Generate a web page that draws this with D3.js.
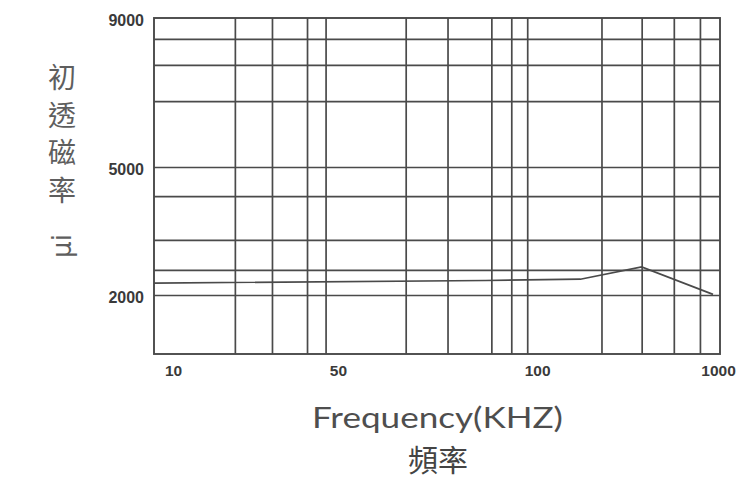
<!DOCTYPE html>
<html>
<head>
<meta charset="utf-8">
<script src="https://cdn.jsdelivr.net/npm/d3@7"></script>
<style>
  html, body { margin: 0; padding: 0; background: #fff; }
  svg { display: block; }
</style>
</head>
<body>
<svg id="chart" width="740" height="490"></svg>
<script>
// ---- data ----
const xTickValues = [10, 50, 100, 1000];               // kHz labels
const xTickLabels = ["10", "50", "100", "1000"];
const xGridValues = [25, 34, 42.5, 47, 67, 77.5, 88.5, 93.5, 97.5, 420, 620, 780, 910];
const xDomainStops = [5, 10, 50, 100, 1000, 1010];
const xStopFractions = [0, 0.0336, 0.325, 0.677, 0.9965, 1];

const yTickValues = [2000, 5000, 9000];
const yTickLabels = ["2000", "5000", "9000"];
const yGridValues = [2000, 2590, 3290, 4320, 5000, 6770, 7740, 8440];
const yDomainStops = [620, 2000, 5000, 9000];
const yStopFractions = [0, 0.1756, 0.5565, 1];

const curveFreq = [5, 87, 315, 620, 975];
const curveMu = [2280, 2340, 2370, 2660, 2015];

const yTitleChars = ["初", "透", "磁", "率"];
const yTitleSymbol = "μi";
const xTitle = "Frequency(KHZ)";
const xTitleZh = "頻率";

// ---- layout ----
const svg = d3.select("#chart");
const m = { left: 154, top: 18, right: 20, bottom: 136 };
const W = 740, H = 490;
const pw = W - m.left - m.right, ph = H - m.top - m.bottom;
const ink = "#4a4a4a";

const x = d3.scaleLinear()
  .domain(xDomainStops)
  .range(xStopFractions.map(f => f * pw));
const y = d3.scaleLinear()
  .domain(yDomainStops)
  .range(yStopFractions.map(f => ph - f * ph));

const g = svg.append("g").attr("transform", `translate(${m.left},${m.top})`);

// vertical grid lines
const vGrid = g.append("g")
  .call(d3.axisBottom(x).tickValues(xGridValues).tickSize(-ph).tickFormat(""))
  .attr("transform", `translate(0,${ph})`);
vGrid.select(".domain").remove();
vGrid.selectAll("line").attr("stroke", ink).attr("stroke-width", 1.7);

// horizontal grid lines
const hGrid = g.append("g")
  .call(d3.axisLeft(y).tickValues(yGridValues).tickSize(-pw).tickFormat(""));
hGrid.select(".domain").remove();
hGrid.selectAll("line").attr("stroke", ink).attr("stroke-width", 1.7);

// frame
g.append("rect")
  .attr("x", 0).attr("y", 0).attr("width", pw).attr("height", ph)
  .attr("fill", "none").attr("stroke", ink).attr("stroke-width", 1.9);

// curve
const pts = curveFreq.map((f, i) => [f, curveMu[i]]);
g.append("path")
  .datum(pts)
  .attr("fill", "none")
  .attr("stroke", ink)
  .attr("stroke-width", 1.7)
  .attr("d", d3.line().x(d => x(d[0])).y(d => y(d[1])));

// y tick labels
const yAx = g.append("g")
  .call(d3.axisLeft(y).tickValues(yTickValues).tickSize(0).tickPadding(10)
    .tickFormat((d, i) => yTickLabels[i]));
yAx.select(".domain").remove();
yAx.selectAll("text")
  .attr("dy", "0.85em")
  .attr("font-family", "Liberation Sans, Arial, sans-serif")
  .attr("font-size", 16)
  .attr("font-weight", "bold")
  .attr("fill", "#3a3a3a");
yAx.selectAll("text").attr("transform", "translate(0,-6)");

// x tick labels
const xAx = g.append("g")
  .attr("transform", `translate(0,${ph})`)
  .call(d3.axisBottom(x).tickValues(xTickValues).tickSize(0).tickPadding(11)
    .tickFormat((d, i) => xTickLabels[i]));
xAx.select(".domain").remove();
xAx.selectAll("text")
  .attr("font-family", "Liberation Sans, Arial, sans-serif")
  .attr("font-size", 15.5)
  .attr("font-weight", "bold")
  .attr("fill", "#3a3a3a");

// y title (vertical stacked CJK)
const yT = svg.append("g").attr("fill", "#5e5e5e")
  .attr("font-family", "Noto Sans CJK TC, Noto Sans CJK SC, sans-serif");
yT.selectAll("text.c")
  .data(yTitleChars)
  .join("text")
  .attr("class", "c")
  .attr("x", 62)
  .attr("y", (d, i) => 76 + i * 37.7)
  .attr("text-anchor", "middle")
  .attr("dominant-baseline", "central")
  .attr("font-size", 28)
  .attr("font-weight", 400)
  .text(d => d);
yT.append("text")
  .attr("transform", "translate(62,246) rotate(-90)")
  .attr("text-anchor", "middle")
  .attr("dominant-baseline", "central")
  .attr("font-family", "DejaVu Sans, sans-serif")
  .attr("font-size", 26)
  .text(yTitleSymbol);

// x titles
svg.append("text")
  .attr("x", 437.5)
  .attr("y", 428)
  .attr("text-anchor", "middle")
  .attr("font-family", "Lato, Open Sans, sans-serif")
  .attr("font-weight", 400)
  .attr("font-size", 28)
  .attr("fill", "#4e4e4e")
  .attr("textLength", 251)
  .attr("lengthAdjust", "spacingAndGlyphs")
  .text(xTitle);
svg.append("text")
  .attr("x", 438)
  .attr("y", 458)
  .attr("text-anchor", "middle")
  .attr("dominant-baseline", "central")
  .attr("font-family", "Noto Sans CJK TC, Noto Sans CJK SC, sans-serif")
  .attr("font-size", 30)
  .attr("font-weight", 400)
  .attr("fill", "#444")
  .text(xTitleZh);
</script>
</body>
</html>
